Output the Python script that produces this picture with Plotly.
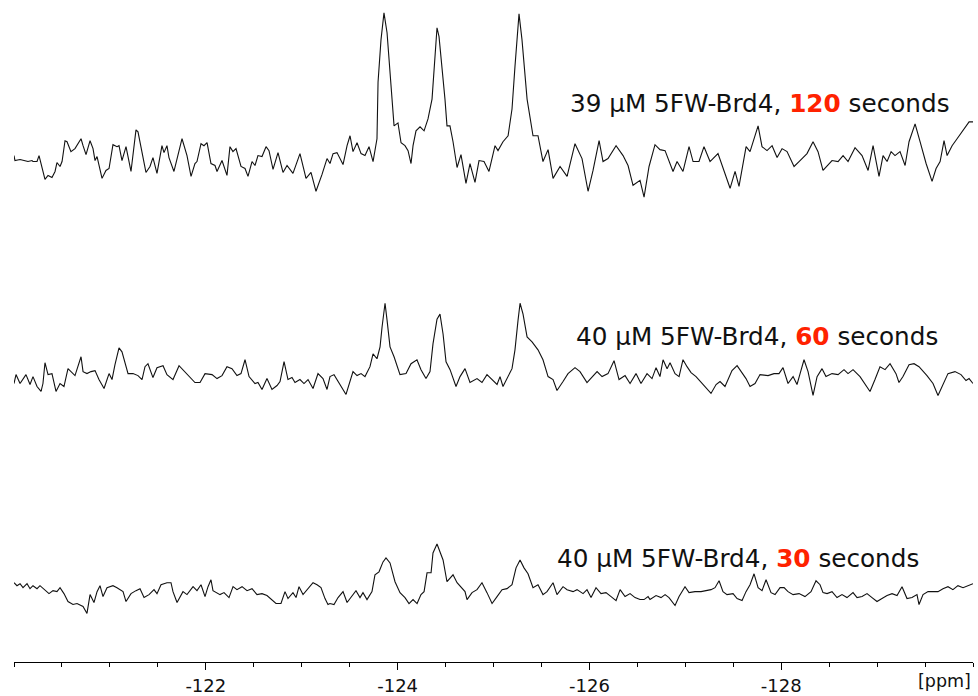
import plotly.graph_objects as go

# ---------------- data (chemical shift in ppm, intensity in arbitrary units) ----------------
top_ppm = [-120.000,-120.010,-120.063,-120.115,-120.146,-120.188,-120.198,-120.240,-120.261,-120.323,
           -120.355,-120.396,-120.428,-120.448,-120.480,-120.501,-120.532,-120.553,-120.594,-120.636,
           -120.699,-120.720,-120.751,-120.793,-120.824,-120.845,-120.866,-120.918,-120.959,-120.991,
           -121.032,-121.074,-121.095,-121.126,-121.168,-121.220,-121.272,-121.293,-121.335,-121.376,
           -121.418,-121.449,-121.491,-121.543,-121.564,-121.595,-121.616,-121.668,-121.752,-121.804,
           -121.846,-121.887,-121.908,-121.950,-121.981,-122.013,-122.054,-122.096,-122.117,-122.169,
           -122.221,-122.252,-122.283,-122.315,-122.367,-122.409,-122.440,-122.482,-122.513,-122.544,
           -122.586,-122.628,-122.659,-122.701,-122.753,-122.805,-122.847,-122.909,-122.982,-123.045,
           -123.097,-123.149,-123.212,-123.264,-123.295,-123.327,-123.368,-123.431,-123.473,-123.504,
           -123.535,-123.577,-123.619,-123.660,-123.702,-123.744,-123.785,-123.796,-123.827,-123.858,
           -123.890,-123.921,-123.963,-124.004,-124.036,-124.077,-124.109,-124.140,-124.161,-124.192,
           -124.234,-124.276,-124.317,-124.359,-124.380,-124.411,-124.432,-124.463,-124.494,-124.515,
           -124.546,-124.578,-124.620,-124.661,-124.713,-124.755,-124.807,-124.849,-124.901,-124.953,
           -125.016,-125.047,-125.099,-125.152,-125.193,-125.224,-125.266,-125.297,-125.350,-125.412,
           -125.464,-125.516,-125.569,-125.621,-125.694,-125.767,-125.850,-125.923,-125.986,-126.038,
           -126.101,-126.142,-126.194,-126.278,-126.351,-126.403,-126.455,-126.528,-126.570,-126.622,
           -126.684,-126.736,-126.789,-126.872,-126.914,-126.976,-127.039,-127.081,-127.143,-127.195,
           -127.258,-127.341,-127.394,-127.467,-127.519,-127.560,-127.634,-127.675,-127.759,-127.800,
           -127.852,-127.905,-127.957,-128.009,-128.061,-128.134,-128.186,-128.269,-128.332,-128.384,
           -128.436,-128.488,-128.530,-128.593,-128.645,-128.697,-128.770,-128.843,-128.906,-128.958,
           -129.020,-129.062,-129.104,-129.146,-129.187,-129.239,-129.292,-129.333,-129.396,-129.448,
           -129.511,-129.573,-129.615,-129.657,-129.698,-129.730,-129.782,-129.834,-129.886,-129.917,
           -129.959,-130.000]
top_int = [3,-2,-1,-2,-3,-2,-3,-3,3,-21,
           -17,-19,-13,-4,-8,-3,18,17,7,10,
           20,13,4,18,10,-2,2,-20,-12,-10,
           14,12,13,-2,12,-13,29,27,7,-14,
           -8,1,-15,13,6,13,1,-13,20,3,
           -18,-5,-3,15,13,16,-5,-7,-13,-2,
           -17,12,7,10,-8,-10,-18,-3,-7,3,
           2,12,8,-11,6,-14,-7,-15,5,-20,
           -14,-33,-16,0,-5,5,6,-6,13,23,
           7,16,5,3,12,-3,20,77,120,147,
           127,83,33,36,16,13,8,-5,13,28,
           32,28,40,60,93,132,123,93,60,33,
           33,17,-9,4,-25,-5,-24,-2,-3,-13,
           13,8,17,23,50,93,146,120,60,23,
           23,-3,9,-20,-8,-18,15,0,-33,-12,
           18,-3,0,13,3,-7,-27,-22,-39,-8,
           14,9,8,-13,-3,-13,12,-3,-3,12,
           -3,5,-10,-30,-13,-28,12,7,33,12,
           8,13,1,10,7,-8,-3,5,17,7,
           -12,-7,-2,-3,3,-3,11,3,-12,13,
           -18,3,-3,7,3,7,-7,17,35,17,
           -5,-23,-10,-3,18,3,13,20,27,32,
           37,37]

mid_ppm = [-120.000,-120.021,-120.063,-120.125,-120.167,-120.198,-120.240,-120.282,-120.302,-120.323,
           -120.355,-120.396,-120.438,-120.480,-120.521,-120.563,-120.636,-120.699,-120.720,-120.761,
           -120.803,-120.845,-120.886,-120.939,-120.991,-121.022,-121.053,-121.095,-121.126,-121.189,
           -121.241,-121.293,-121.335,-121.366,-121.397,-121.449,-121.491,-121.554,-121.595,-121.658,
           -121.721,-121.804,-121.887,-121.940,-121.992,-122.065,-122.117,-122.169,-122.221,-122.273,
           -122.325,-122.367,-122.409,-122.451,-122.513,-122.544,-122.586,-122.638,-122.690,-122.743,
           -122.774,-122.816,-122.857,-122.899,-122.930,-122.982,-123.024,-123.066,-123.118,-123.170,
           -123.222,-123.264,-123.295,-123.337,-123.400,-123.462,-123.535,-123.577,-123.619,-123.660,
           -123.712,-123.744,-123.785,-123.817,-123.838,-123.869,-123.890,-123.921,-123.963,-124.025,
           -124.088,-124.140,-124.202,-124.244,-124.296,-124.338,-124.369,-124.411,-124.442,-124.474,
           -124.505,-124.547,-124.609,-124.651,-124.703,-124.755,-124.828,-124.880,-124.932,-124.985,
           -125.037,-125.068,-125.099,-125.193,-125.224,-125.256,-125.277,-125.308,-125.350,-125.402,
           -125.464,-125.516,-125.569,-125.621,-125.662,-125.725,-125.777,-125.850,-125.902,-125.975,
           -126.080,-126.132,-126.194,-126.257,-126.309,-126.372,-126.424,-126.486,-126.538,-126.601,
           -126.653,-126.695,-126.736,-126.768,-126.810,-126.841,-126.893,-126.935,-126.976,-127.018,
           -127.060,-127.112,-127.175,-127.227,-127.268,-127.321,-127.362,-127.414,-127.487,-127.540,
           -127.592,-127.633,-127.675,-127.727,-127.779,-127.863,-127.925,-127.977,-128.019,-128.071,
           -128.124,-128.165,-128.197,-128.238,-128.280,-128.332,-128.374,-128.426,-128.467,-128.530,
           -128.593,-128.655,-128.697,-128.749,-128.822,-128.874,-128.926,-128.978,-129.030,-129.083,
           -129.135,-129.197,-129.228,-129.270,-129.333,-129.385,-129.437,-129.520,-129.583,-129.635,
           -129.687,-129.739,-129.812,-129.875,-129.927,-129.959,-130.000]
mid_int = [-7,2,-7,2,-8,0,-10,-15,-7,14,
           2,3,-15,-7,-10,8,1,20,5,3,
           5,6,-3,-12,3,-3,12,29,25,3,
           3,1,-3,10,13,-1,9,11,2,-3,
           11,3,-6,-6,3,2,-2,1,10,8,
           1,3,17,0,-7,-6,-13,-2,-13,-9,
           -5,15,-3,-1,-6,-3,-7,-3,-12,3,
           -2,-13,0,2,-8,-18,5,1,3,0,
           10,23,18,30,50,74,57,30,20,2,
           3,13,17,7,-2,5,33,58,63,43,
           15,7,-10,0,8,-6,-2,-6,2,-3,
           -8,0,-10,8,27,57,74,63,40,35,
           27,17,0,-3,-14,-5,3,9,5,-6,
           5,0,3,16,-3,1,-7,3,-7,3,
           -2,9,0,17,8,14,3,0,17,10,
           4,0,-7,-13,-17,-8,-5,-10,6,11,
           3,-2,-10,-7,2,1,3,3,9,-7,
           0,-8,3,17,5,-19,0,8,0,3,
           2,7,3,7,0,-7,-15,-3,10,7,
           13,3,-6,0,12,13,10,1,-7,-19,
           -8,3,5,2,-4,-2,-7]

bot_ppm = [-120.000,-120.031,-120.063,-120.094,-120.136,-120.167,-120.198,-120.240,-120.271,-120.323,
           -120.365,-120.407,-120.448,-120.480,-120.521,-120.563,-120.615,-120.657,-120.720,-120.761,
           -120.793,-120.834,-120.866,-120.897,-120.928,-120.970,-121.032,-121.074,-121.137,-121.168,
           -121.220,-121.272,-121.314,-121.356,-121.408,-121.460,-121.491,-121.533,-121.595,-121.637,
           -121.658,-121.700,-121.762,-121.804,-121.867,-121.908,-121.950,-121.992,-122.023,-122.054,
           -122.075,-122.148,-122.190,-122.242,-122.284,-122.325,-122.378,-122.430,-122.482,-122.534,
           -122.586,-122.638,-122.690,-122.732,-122.784,-122.826,-122.857,-122.909,-122.941,-122.972,
           -123.014,-123.066,-123.118,-123.160,-123.201,-123.243,-123.274,-123.295,-123.337,-123.379,
           -123.431,-123.473,-123.535,-123.566,-123.608,-123.639,-123.681,-123.733,-123.764,-123.806,
           -123.848,-123.879,-123.921,-123.973,-124.025,-124.077,-124.119,-124.161,-124.203,-124.244,
           -124.276,-124.307,-124.349,-124.369,-124.411,-124.442,-124.474,-124.515,-124.578,-124.620,
           -124.661,-124.703,-124.724,-124.776,-124.828,-124.880,-124.932,-124.985,-125.037,-125.089,
           -125.141,-125.193,-125.235,-125.277,-125.318,-125.360,-125.412,-125.464,-125.516,-125.558,
           -125.621,-125.662,-125.725,-125.767,-125.829,-125.871,-125.934,-125.975,-126.017,-126.069,
           -126.121,-126.173,-126.226,-126.278,-126.320,-126.372,-126.424,-126.476,-126.528,-126.570,
           -126.612,-126.632,-126.695,-126.747,-126.789,-126.830,-126.893,-126.935,-126.997,-127.039,
           -127.101,-127.164,-127.216,-127.268,-127.310,-127.352,-127.393,-127.435,-127.498,-127.540,
           -127.592,-127.633,-127.675,-127.717,-127.759,-127.800,-127.842,-127.894,-127.936,-127.988,
           -128.030,-128.071,-128.124,-128.186,-128.248,-128.311,-128.363,-128.405,-128.436,-128.478,
           -128.530,-128.582,-128.634,-128.686,-128.749,-128.791,-128.843,-128.895,-128.947,-128.999,
           -129.051,-129.104,-129.156,-129.208,-129.260,-129.312,-129.364,-129.416,-129.437,-129.479,
           -129.531,-129.583,-129.635,-129.687,-129.739,-129.791,-129.843,-129.896,-129.948,-130.000]
bot_int = [9,6,8,4,8,3,6,3,6,2,
           -2,1,0,4,-2,-10,-13,-12,-15,-22,
           -3,-11,0,6,-5,4,6,4,0,-10,
           -2,1,3,-6,-3,2,-2,7,9,9,
           0,-11,0,-3,5,1,7,-5,5,12,
           1,-3,-1,-6,5,2,5,1,3,-3,
           -2,-4,-8,-12,-12,0,-7,-1,-6,5,
           -3,3,9,7,4,-7,-13,-12,-13,-6,
           0,-11,-3,1,-6,-1,-8,0,17,20,
           30,34,29,10,-1,-6,-12,-8,-12,-3,
           0,19,19,39,48,40,32,10,17,9,
           4,0,-8,-1,2,9,-1,-12,-5,2,
           3,7,24,32,24,18,4,7,-3,0,
           9,-3,5,2,0,2,-2,2,-6,4,
           -2,-1,-5,-9,2,-5,-2,-6,-8,-8,
           -5,-8,-4,-6,-3,-6,-14,-5,5,-1,
           0,0,1,2,4,11,0,-3,-2,-7,
           -9,0,7,18,4,1,12,-1,-3,4,
           4,0,-3,-2,-5,0,11,7,-1,-2,
           0,-6,-3,-6,-1,-6,-5,-2,-6,-10,
           -7,-4,-2,-4,5,-7,-6,-3,-13,-3,
           0,0,0,3,5,2,6,4,6,8]

assert len(top_ppm) == len(top_int), (len(top_ppm), len(top_int))
assert len(mid_ppm) == len(mid_int), (len(mid_ppm), len(mid_int))
assert len(bot_ppm) == len(bot_int), (len(bot_ppm), len(bot_int))

spectra_ppm = [top_ppm, mid_ppm, bot_ppm]
spectra_int = [top_int, mid_int, bot_int]
stack_offsets = [508, 288, 71]          # vertical stacking of the spectra
label_prefix = ["39 μM 5FW-Brd4, ", "40 μM 5FW-Brd4, ", "40 μM 5FW-Brd4, "]
label_time = ["120", "60", "30"]
label_suffix = [" seconds", " seconds", " seconds"]
label_x = [0.978, 0.9656, 0.9458]
label_y = [0.843, 0.491, 0.1557]

tick_vals = [-122, -124, -126, -128]
tick_text = ["-122", "-124", "-126", "-128"]
minor_vals = [-120 - 0.5 * i for i in range(21)]
x_range = [-120, -130]

RED = "#ff2200"
FONT = "DejaVu Sans"

fig = go.Figure()
for ppm, inten, off in zip(spectra_ppm, spectra_int, stack_offsets):
    fig.add_trace(go.Scatter(
        x=ppm, y=[v + off for v in inten], mode="lines",
        line=dict(color="#111111", width=1.1), hoverinfo="skip", showlegend=False))

annotations = []
for pre, t, suf, ax, ay in zip(label_prefix, label_time, label_suffix, label_x, label_y):
    annotations.append(dict(
        xref="paper", yref="paper", x=ax, y=ay, xanchor="right", yanchor="middle",
        text=f"{pre}<b><span style='color:{RED}'>{t}</span></b>{suf}",
        showarrow=False, font=dict(family=FONT, size=24.7, color="#111111")))
annotations.append(dict(
    xref="paper", yref="paper", x=1.0, y=-0.0284, xanchor="right", yanchor="middle",
    text="[ppm]", showarrow=False, font=dict(family=FONT, size=17.5, color="#111111")))

fig.update_layout(
    width=978, height=696,
    margin=dict(l=14, r=5, t=0, b=28),
    paper_bgcolor="white", plot_bgcolor="white",
    showlegend=False,
    annotations=annotations,
    xaxis=dict(
        range=x_range, showline=True, linecolor="black", linewidth=1,
        showgrid=False, zeroline=False,
        tickmode="array", tickvals=tick_vals, ticktext=tick_text,
        ticks="outside", ticklen=7, tickwidth=1, tickcolor="black",
        tickfont=dict(family=FONT, size=18, color="#111111"),
        minor=dict(tickmode="array", tickvals=minor_vals, ticks="outside",
                   ticklen=4, tickwidth=1, tickcolor="black", showgrid=False),
    ),
    yaxis=dict(range=[0, 668], visible=False, fixedrange=True),
)

fig.write_html("out.html")
